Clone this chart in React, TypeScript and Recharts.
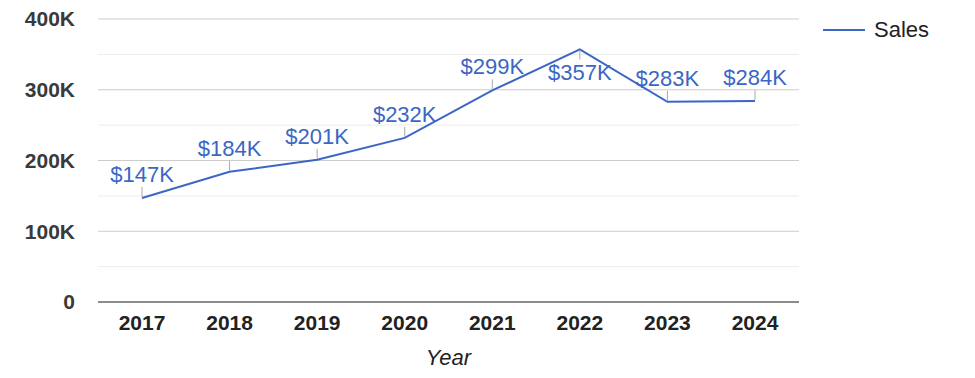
import { LineChart, Line, XAxis, YAxis, CartesianGrid, ReferenceLine, LabelList, Label } from 'recharts';

const years = ['2017', '2018', '2019', '2020', '2021', '2022', '2023', '2024'];
const sales = [147000, 184000, 201000, 232000, 299000, 357000, 283000, 284000];
const yTicks = [0, 100000, 200000, 300000, 400000];
const minorTicks = [50000, 150000, 250000, 350000];

const data = years.map((year, i) => ({ year, sales: sales[i] }));
const peak = Math.max(...sales);

const BLUE = '#3b66c5';
const FONT = 'Arial, "Liberation Sans", sans-serif';

const kFmt = (v: number) => (v === 0 ? '0' : `${v / 1000}K`);

function PointLabel(props: any) {
  const { x, y, value } = props;
  const below = value === peak;
  const text = `$${Math.round(value / 1000)}K`;
  return (
    <g>
      <line x1={x} x2={x} y1={below ? y + 1 : y - 1} y2={below ? y + 10 : y - 11} stroke="#aaa" strokeWidth={1} />
      <text x={x} y={below ? y + 31 : y - 16} textAnchor="middle" fill={BLUE} fontSize={22} fontFamily={FONT}>
        {text}
      </text>
    </g>
  );
}

export default function App() {
  return (
    <div style={{ position: 'absolute', left: 0, top: 0, width: 975, height: 378, fontFamily: FONT }}>
      <LineChart width={975} height={378} data={data} margin={{ top: 19, right: 176, bottom: 0, left: 0 }}>
        <CartesianGrid vertical={false} stroke="#cccccc" />
        {minorTicks.map((t) => (
          <ReferenceLine key={t} y={t} stroke="#ececec" />
        ))}
        <XAxis
          dataKey="year"
          height={76}
          padding={{ left: 44, right: 44 }}
          tickLine={false}
          tickSize={0}
          tickMargin={13}
          axisLine={{ stroke: '#333', strokeWidth: 1 }}
          tick={{ fontSize: 21, fontWeight: 'bold', fill: '#222', fontFamily: FONT }}
        >
          <Label value="Year" position="insideBottom" offset={13} fontSize={22} fontStyle="italic" fill="#222" fontFamily={FONT} />
        </XAxis>
        <YAxis
          width={98}
          domain={[0, 400000]}
          ticks={yTicks}
          tickFormatter={kFmt}
          tickLine={false}
          tickSize={0}
          tickMargin={23}
          axisLine={false}
          tick={{ fontSize: 21, fontWeight: 'bold', fill: '#3a3a3a', fontFamily: FONT }}
        />
        <Line
          type="linear"
          dataKey="sales"
          name="Sales"
          stroke={BLUE}
          strokeWidth={2}
          dot={false}
          activeDot={false}
          isAnimationActive={false}
        >
          <LabelList dataKey="sales" content={PointLabel} />
        </Line>
      </LineChart>
      <div style={{ position: 'absolute', left: 823, top: 17, display: 'flex', alignItems: 'center', fontSize: 22, color: '#222' }}>
        <svg width={42} height={24}>
          <line x1={0} x2={42} y1={12} y2={12} stroke={BLUE} strokeWidth={2} />
        </svg>
        <span style={{ marginLeft: 9 }}>Sales</span>
      </div>
    </div>
  );
}
